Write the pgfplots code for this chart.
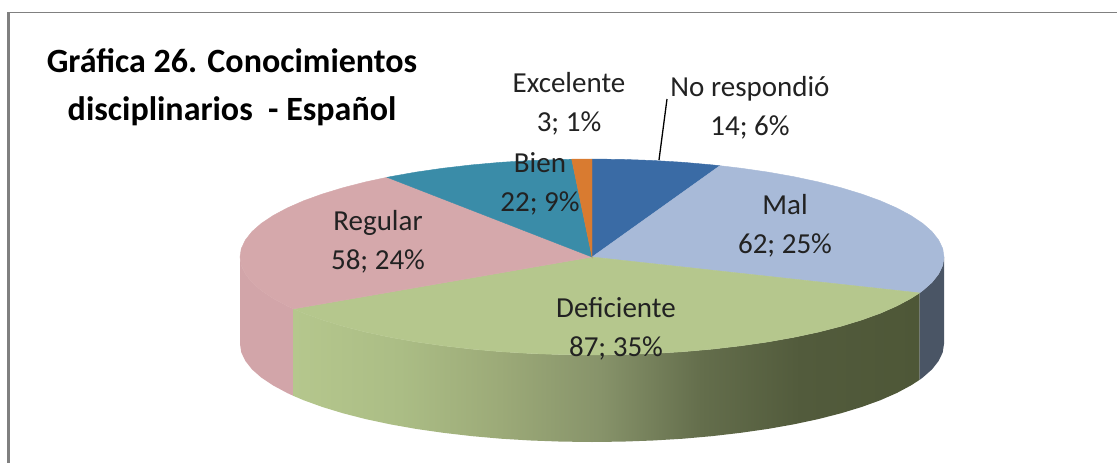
\documentclass[border=0pt]{standalone}
\usepackage{pgfplots}
\pgfplotsset{compat=1.18}
\usepackage{fontspec}
\setmainfont{Carlito}
\definecolor{cNo}{HTML}{3A6BA5}
\definecolor{cMal}{HTML}{A8BAD8}
\definecolor{cDef}{HTML}{B5C78D}
\definecolor{cReg}{HTML}{D5A8AB}
\definecolor{cRegS}{HTML}{D2A5A9}
\definecolor{cBien}{HTML}{3A8CA8}
\definecolor{cExc}{HTML}{D97B30}
\definecolor{cMalS}{HTML}{4A5565}
\definecolor{cTxt}{HTML}{222222}
\definecolor{dA}{HTML}{ABBD85}
\definecolor{dB}{HTML}{9CAA78}
\definecolor{dC}{HTML}{87936A}
\definecolor{dD}{HTML}{646E4C}
\definecolor{dE}{HTML}{525B3C}
\definecolor{dF}{HTML}{4E5737}
\pgfdeclarehorizontalshading{defside}{100bp}{
 color(0bp)=(cDef); color(25bp)=(cDef); color(33.5bp)=(dA);
 color(41.5bp)=(dB); color(49.5bp)=(dC);
 color(57.5bp)=(dD); color(65.5bp)=(dE);
 color(75bp)=(dF); color(100bp)=(dF)}
\tikzset{lab/.style={text=cTxt,font=\fontsize{29}{38.5}\selectfont,align=center,inner sep=0pt}}
\begin{document}
\begin{tikzpicture}
\begin{axis}[
  width=1117pt,height=463pt,scale only axis,
  xmin=0,xmax=1117,ymin=0,ymax=463,y dir=reverse,
  hide axis,clip=true,
]
% page background
\addplot[fill=white,draw=none] coordinates {(0,0)(1117,0)(1117,463)(0,463)} -- cycle;
% frame
\addplot[draw=gray,line width=1.5pt] coordinates {(1117,12.5)(8.5,12.5)};
\addplot[draw=gray,line width=2.8pt] coordinates {(8.5,12)(8.5,463)};
% side walls
\addplot[fill=cRegS,draw=none] coordinates {(293.5,308.9)(287.2,306)(273,298.4)(261.2,290.5)(252,282.4)(245.4,274)(241.3,265.5)(240,257)
 (240,344)(241.3,352.5)(245.4,361)(252,369.4)(261.2,377.5)(273,385.4)(287.2,393)(293.5,395.9)} -- cycle;
\addplot[shading=defside,draw=none] coordinates {(919.5,292.9)(911,298.4)(896.8,306)(880.4,313.2)(861.6,320)(840.9,326.3)(818.3,332.1)(793.9,337.3)(768,341.9)(740.8,345.8)(712.4,349.1)(683.1,351.7)(653.1,353.5)(622.7,354.6)(592,355)(561.3,354.6)(530.9,353.5)(500.9,351.7)(471.6,349.1)(443.2,345.8)(416,341.9)(390.1,337.3)(365.7,332.1)(343.1,326.3)(322.4,320)(303.6,313.2)(293.5,308.9)
 (293.5,395.9)(303.6,400.2)(322.4,407)(343.1,413.3)(365.7,419.1)(390.1,424.3)(416,428.9)(443.2,432.8)(471.6,436.1)(500.9,438.7)(530.9,440.5)(561.3,441.6)(592,442)(622.7,441.6)(653.1,440.5)(683.1,438.7)(712.4,436.1)(740.8,432.8)(768,428.9)(793.9,424.3)(818.3,419.1)(840.9,413.3)(861.6,407)(880.4,400.2)(896.8,393)(911,385.4)(919.5,379.9)} -- cycle;
\addplot[fill=cMalS,draw=none] coordinates {(944,257)(942.7,265.5)(938.6,274)(932,282.4)(922.8,290.5)(919.5,292.9)
 (919.5,379.9)(922.8,377.5)(932,369.4)(938.6,361)(942.7,352.5)(944,344)} -- cycle;
% top sectors
\addplot[fill=cNo,draw=cNo,line width=0.4pt] coordinates {(592,257)(592,159)(622.7,159.4)(653.1,160.5)(683.1,162.3)(712.4,164.9)(719.9,165.7)} -- cycle;
\addplot[fill=cMal,draw=cMal,line width=0.4pt] coordinates {(592,257)(719.9,165.7)(740.8,168.2)(768,172.1)(793.9,176.7)(818.3,181.9)(840.9,187.7)(861.6,194)(880.4,200.8)(896.8,208)(911,215.6)(922.8,223.5)(932,231.6)(938.6,240)(942.7,248.5)(944,257)(942.7,265.5)(938.6,274)(932,282.4)(922.8,290.5)(919.5,292.9)} -- cycle;
\addplot[fill=cDef,draw=cDef,line width=0.4pt] coordinates {(592,257)(919.5,292.9)(911,298.4)(896.8,306)(880.4,313.2)(861.6,320)(840.9,326.3)(818.3,332.1)(793.9,337.3)(768,341.9)(740.8,345.8)(712.4,349.1)(683.1,351.7)(653.1,353.5)(622.7,354.6)(592,355)(561.3,354.6)(530.9,353.5)(500.9,351.7)(471.6,349.1)(443.2,345.8)(416,341.9)(390.1,337.3)(365.7,332.1)(343.1,326.3)(322.4,320)(303.6,313.2)(293.5,308.9)} -- cycle;
\addplot[fill=cReg,draw=cReg,line width=0.4pt] coordinates {(592,257)(293.5,308.9)(287.2,306)(273,298.4)(261.2,290.5)(252,282.4)(245.4,274)(241.3,265.5)(240,257)(241.3,248.5)(245.4,240)(252,231.6)(261.2,223.5)(273,215.6)(287.2,208)(303.6,200.8)(322.4,194)(343.1,187.7)(365.7,181.9)(387.1,177.3)} -- cycle;
\addplot[fill=cBien,draw=cBien,line width=0.4pt] coordinates {(592,257)(387.1,177.3)(390.1,176.7)(416,172.1)(443.2,168.2)(471.6,164.9)(500.9,162.3)(530.9,160.5)(561.3,159.4)(571.7,159.2)} -- cycle;
\addplot[fill=cExc,draw=cExc,line width=0.4pt] coordinates {(592,257)(571.7,159.2)(592,159)} -- cycle;
% leader line
\addplot[draw=black,line width=1.3pt] coordinates {(659,160)(667,99)};
% text
\node[lab,text=black,font=\fontsize{34}{48}\selectfont\bfseries] at (axis cs:232,87) {Gráfica 26. Conocimientos\\disciplinarios\ \ - Español};
\node[lab] at (axis cs:569,104) {Excelente\\3; 1\%};
\node[lab] at (axis cs:750,108) {No respondió\\14; 6\%};
\node[lab] at (axis cs:540,184) {Bien\\22; 9\%};
\node[lab] at (axis cs:785,226) {Mal\\62; 25\%};
\node[lab] at (axis cs:378,242) {Regular\\58; 24\%};
\node[lab] at (axis cs:616,329) {Deficiente\\87; 35\%};
\end{axis}
\end{tikzpicture}
\end{document}
